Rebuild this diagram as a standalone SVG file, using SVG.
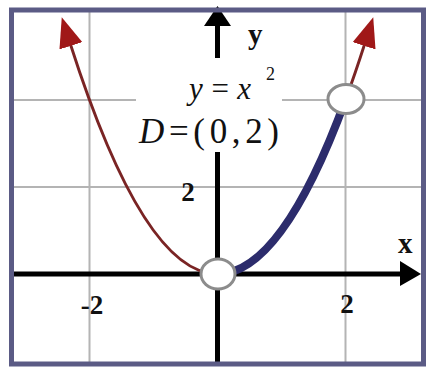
<svg xmlns="http://www.w3.org/2000/svg" width="428" height="368" viewBox="0 0 428 368">
<style>
.grid{stroke:#b4b4b4;stroke-width:2;fill:none}
.axis{stroke:#000;stroke-width:5;fill:none}
.thin{stroke:#7a2424;stroke-width:3;fill:none}
.thick{stroke:#2c2c6c;stroke-width:8;fill:none;stroke-linecap:round}
.pt{fill:#fff;stroke:#8c8c8c;stroke-width:3}
.lbl{font-family:"Liberation Serif",serif;fill:#111}
</style>
<defs>
<marker id="ah" markerUnits="userSpaceOnUse" viewBox="0 0 30 24" markerWidth="30" markerHeight="24" refX="2" refY="12" orient="auto">
<path d="M0,0 L30,12 L0,24 z" fill="#a01818"/>
</marker>
</defs>
<rect width="428" height="368" fill="#fff"/>
<g id="grid">
<line class="grid" x1="89.5" y1="10" x2="89.5" y2="364"/>
<line class="grid" x1="345.5" y1="10" x2="345.5" y2="364"/>
<line class="grid" x1="11" y1="100" x2="423" y2="100"/>
<line class="grid" x1="11" y1="187" x2="423" y2="187"/>
</g>
<g id="axes">
<line class="axis" x1="12" y1="274" x2="404" y2="274"/>
<polygon points="421,274 400,261 400,286" fill="#000"/>
<line class="axis" x1="217.5" y1="364" x2="217.5" y2="22"/>
<polygon points="217.5,6 204,26 231,26" fill="#000"/>
</g>
<rect x="136" y="58" width="146" height="94" fill="#fff"/>
<g id="connectors">
<path class="thin" d="M217.5,274 Q143.9,274 70.3,43.9" marker-end="url(#ah)"/>
<path class="thick" d="M217.5,274 Q281.5,274 345.5,100"/>
<path class="thin" d="M345.5,100 Q355.1,73.9 364.7,43.9" marker-end="url(#ah)"/>
</g>
<rect x="11.5" y="10" width="412" height="354" fill="none" stroke="#5b5b85" stroke-width="5"/>
<g id="origin"><ellipse class="pt" cx="218" cy="274" rx="17" ry="15"/></g>
<g id="pointD"><ellipse class="pt" cx="346" cy="99" rx="18" ry="14.5"/></g>
<g id="labels">
<text class="lbl" x="248" y="44" font-size="29" font-weight="bold">y</text>
<text class="lbl" x="398" y="253" font-size="29" font-weight="bold">x</text>
<text class="lbl" x="188" y="201" font-size="27" font-weight="bold" text-anchor="middle">2</text>
<text class="lbl" x="92" y="314" font-size="27" font-weight="bold" text-anchor="middle">-2</text>
<text class="lbl" x="347" y="313" font-size="27" font-weight="bold" text-anchor="middle">2</text>
<text class="lbl" font-size="31"><tspan x="189" y="99" font-style="italic" textLength="62" lengthAdjust="spacing">y=x</tspan><tspan x="266" y="80" font-size="18">2</tspan></text>
<text class="lbl" x="139" y="143" font-size="35" textLength="140" lengthAdjust="spacing"><tspan font-style="italic">D</tspan>=(0,2)</text>
</g>
</svg>
